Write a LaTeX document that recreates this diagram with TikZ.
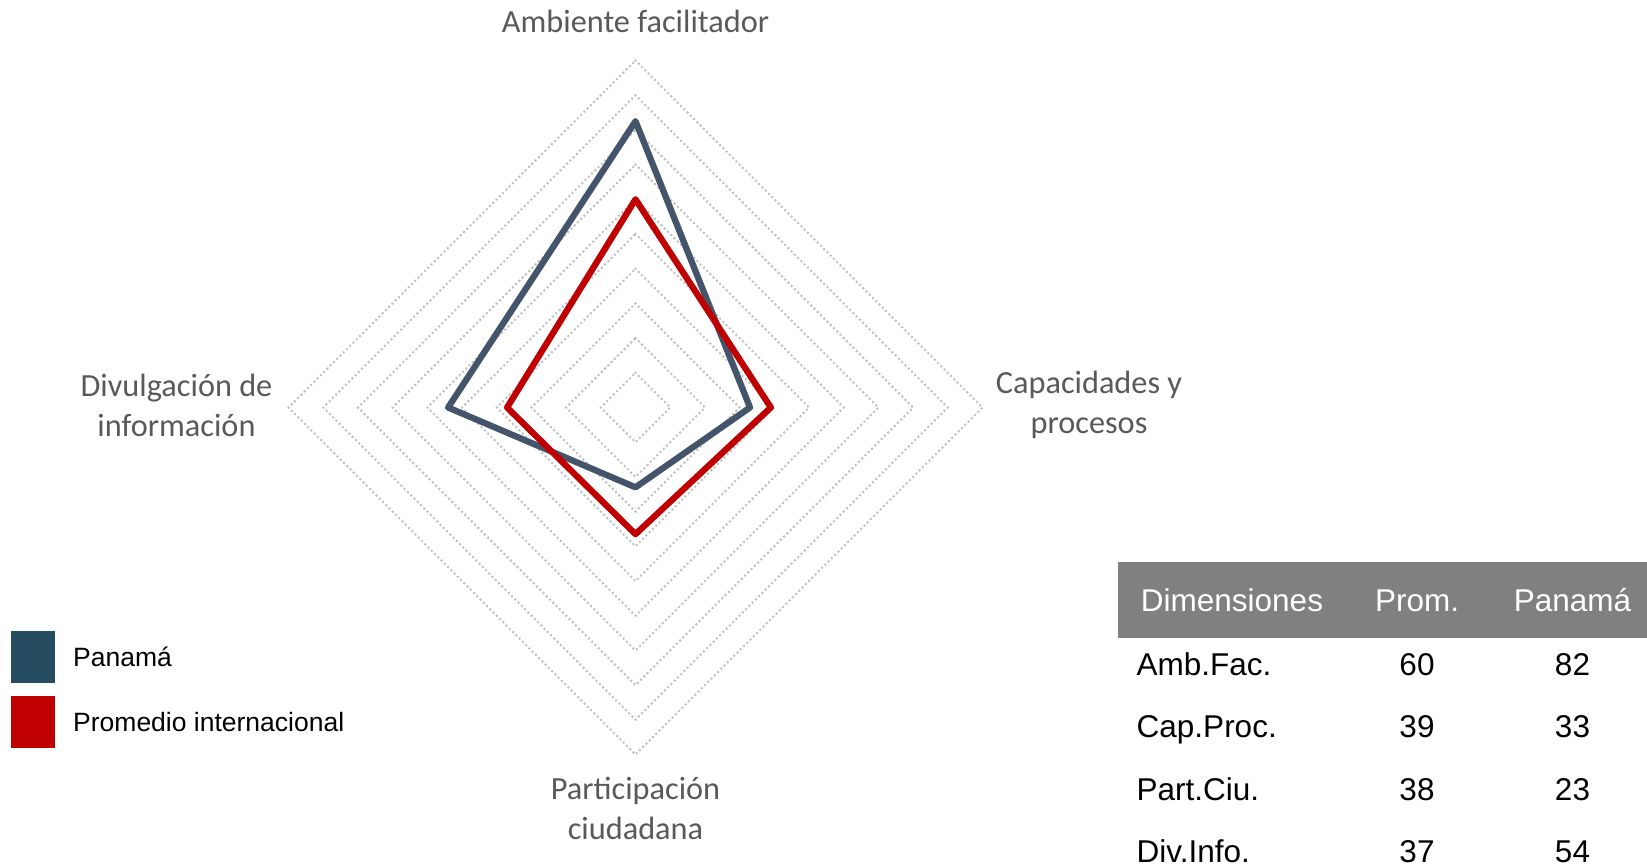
\documentclass[tikz,border=0pt]{standalone}
\usepackage{fontspec}
\setmainfont{Liberation Sans}
\newfontfamily\calib{Carlito}
\definecolor{axisgray}{HTML}{595959}
\definecolor{gridgray}{HTML}{BFBFBF}
\definecolor{panline}{HTML}{44546A}
\definecolor{promred}{HTML}{C00000}
\definecolor{panbox}{HTML}{264D5F}
\definecolor{headgray}{HTML}{808080}
\begin{document}
\begin{tikzpicture}[x=1pt,y=-1pt,
  gridline/.style={gridgray, line width=2.8pt, line cap=round, dash pattern=on 0pt off 4.6pt},
  series/.style={line width=6.3pt, line join=round},
  axislabel/.style={font=\calib\fontsize{32.3}{40}\selectfont, text=axisgray, align=center, inner sep=0pt},
  legbox/.style={minimum width=44pt, minimum height=52pt, inner sep=0pt},
  legtext/.style={font=\fontsize{26.5}{30}\selectfont, anchor=base west, inner sep=0pt},
  cell/.style={font=\fontsize{31.5}{36}\selectfont, inner sep=0pt, anchor=base},
  rowlabel/.style={cell, anchor=base west},
]
\useasboundingbox (0,0) rectangle (1647,865);
\coordinate (C) at (635.5,407.5);
% grid rings
\foreach \k in {1,...,10} {
  \pgfmathsetmacro{\r}{34.7*\k}
  \draw[gridline, shift={(C)}] (0,-\r) -- (\r,0) -- (0,\r) -- (-\r,0) -- cycle;
}
% series
\draw[series, panline, shift={(C)}] (0,-0.825*347) -- (0.33*347,0) -- (0,0.23*347) -- (-0.54*347,0) -- cycle;
\draw[series, promred, shift={(C)}] (0,-0.60*347) -- (0.39*347,0) -- (0,0.365*347) -- (-0.37*347,0) -- cycle;
% axis labels
\node[axislabel] (amb) at (635.5,21) {Ambiente facilitador};
\node[axislabel] (cap) at (1089,405) {Capacidades y\\procesos};
\node[axislabel] (div) at (176.5,405) {Divulgación de\\información};
\node[axislabel] (par) at (635.5,808) {Participación\\ciudadana};
% legend
\node[legbox, fill=panbox] (lp) at (33,657) {};
\node[legbox, fill=promred] (lr) at (33,722) {};
\node[legtext] (lpt) at (73,666.5) {Panamá};
\node[legtext] (lrt) at (73,731.5) {Promedio internacional};
% table
\node[fill=headgray, anchor=north west, minimum width=529pt, minimum height=76pt, inner sep=0pt] (head) at (1118,562) {};
\node[cell, text=white] (h1) at (1232,611) {Dimensiones};
\node[cell, text=white] (h2) at (1417,611) {Prom.};
\node[cell, text=white] (h3) at (1572.5,611) {Panamá};
\node[rowlabel] (r1) at (1136.5,675.5) {Amb.Fac.};
\node[cell] (r1a) at (1417,675.5) {60};
\node[cell] (r1b) at (1572.5,675.5) {82};
\node[rowlabel] (r2) at (1136.5,737.5) {Cap.Proc.};
\node[cell] (r2a) at (1417,737.5) {39};
\node[cell] (r2b) at (1572.5,737.5) {33};
\node[rowlabel] (r3) at (1136.5,800) {Part.Ciu.};
\node[cell] (r3a) at (1417,800) {38};
\node[cell] (r3b) at (1572.5,800) {23};
\node[rowlabel] (r4) at (1136.5,862) {Div.Info.};
\node[cell] (r4a) at (1417,862) {37};
\node[cell] (r4b) at (1572.5,862) {54};
\end{tikzpicture}
\end{document}
